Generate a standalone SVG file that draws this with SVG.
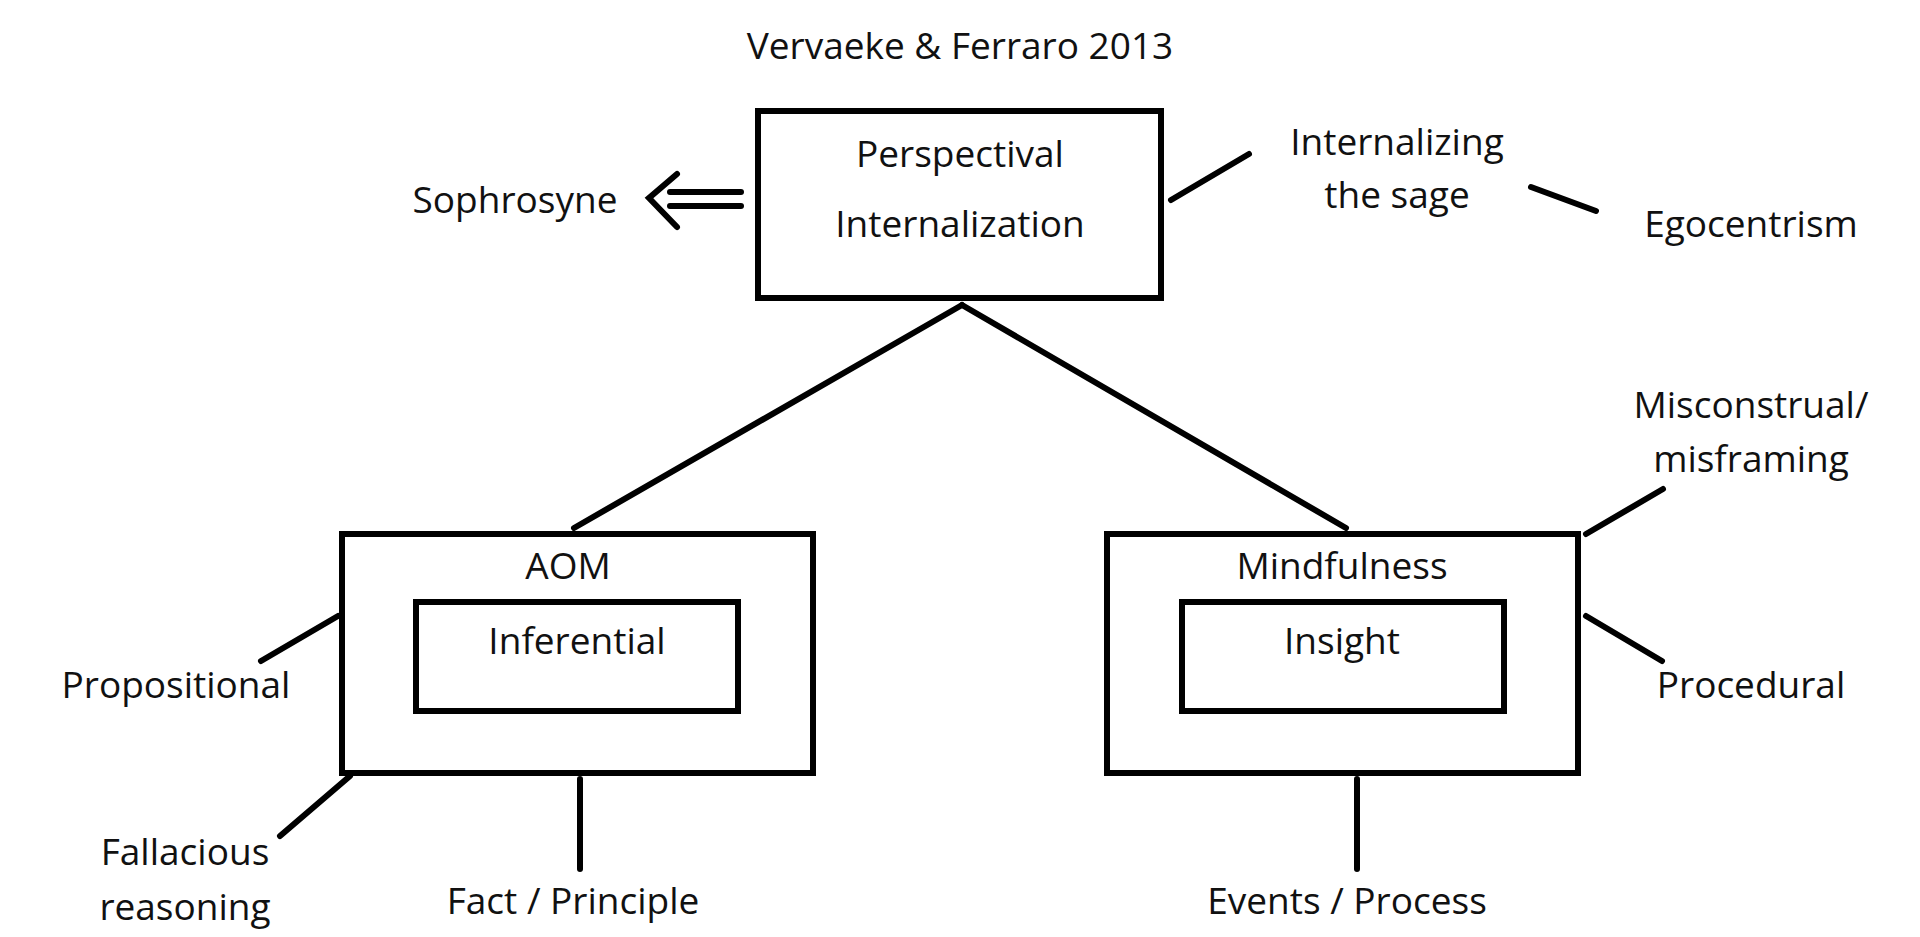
<svg xmlns="http://www.w3.org/2000/svg" width="1920" height="937" viewBox="0 0 1920 937">
<style>
text{font-family:"Open Sans","Noto Sans",sans-serif;font-size:37px;fill:#111;text-anchor:middle;dominant-baseline:central}
.b{fill:none;stroke:#000;stroke-width:6}
.c line,.c path{stroke:#000;stroke-width:6;fill:none;stroke-linecap:round}
</style>
<rect width="1920" height="937" fill="#fff"/>
<text x="960" y="44">Vervaeke &amp; Ferraro 2013</text>
<g id="perspectival"><rect class="b" x="758" y="111" width="403" height="187"/><text x="960" y="152">Perspectival</text><text x="960" y="222">Internalization</text></g>
<g id="aom"><rect class="b" x="342" y="534" width="471" height="239"/><text x="568" y="564">AOM</text></g>
<g id="inferential"><rect class="b" x="416" y="602" width="322" height="109"/><text x="577" y="639">Inferential</text></g>
<g id="mindfulness"><rect class="b" x="1107" y="534" width="471" height="239"/><text x="1342" y="564">Mindfulness</text></g>
<g id="insight"><rect class="b" x="1182" y="602" width="322" height="109"/><text x="1342" y="639">Insight</text></g>
<g id="sophrosyne"><text x="515" y="198">Sophrosyne</text></g>
<g id="internalizing"><text x="1397" y="140">Internalizing</text><text x="1397" y="193">the sage</text></g>
<g id="egocentrism"><text x="1751" y="222">Egocentrism</text></g>
<g id="propositional"><text x="176" y="683">Propositional</text></g>
<g id="fallacious"><text x="185" y="850">Fallacious</text><text x="185" y="905">reasoning</text></g>
<g id="fact"><text x="573" y="899">Fact / Principle</text></g>
<g id="events"><text x="1347" y="899">Events / Process</text></g>
<g id="misconstrual"><text x="1751" y="403">Misconstrual/</text><text x="1751" y="457">misframing</text></g>
<g id="procedural"><text x="1751" y="683">Procedural</text></g>
<g id="connectors" class="c">
<path d="M677,174 L649,198 L677,227" stroke-width="4"/>
<line x1="670" y1="192" x2="741" y2="192" stroke-width="5"/>
<line x1="670" y1="206" x2="741" y2="206" stroke-width="5"/>
<line x1="1171" y1="200" x2="1249" y2="154"/>
<line x1="1531" y1="187" x2="1596" y2="211"/>
<line x1="962" y1="305" x2="574" y2="528"/>
<line x1="962" y1="305" x2="1346" y2="528"/>
<line x1="338" y1="616" x2="261" y2="661"/>
<line x1="350" y1="776" x2="280" y2="836"/>
<line x1="580" y1="779" x2="580" y2="869"/>
<line x1="1357" y1="779" x2="1357" y2="869"/>
<line x1="1586" y1="534" x2="1663" y2="489"/>
<line x1="1586" y1="616" x2="1662" y2="661"/>
</g>
</svg>
